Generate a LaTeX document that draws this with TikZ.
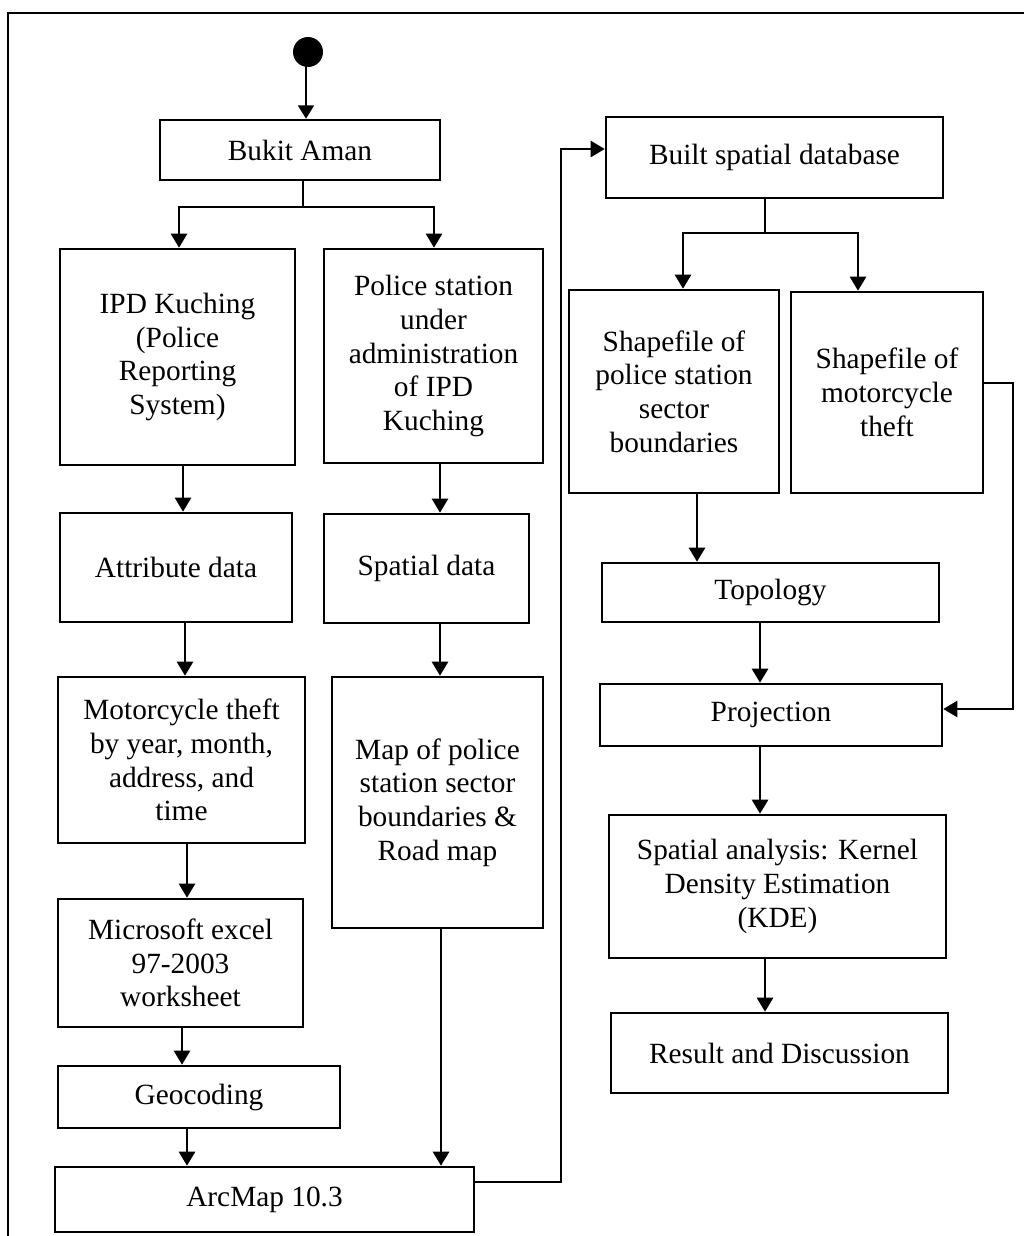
\documentclass[tikz,border=0pt]{standalone}
\usepackage{fontspec}
\setmainfont{Liberation Serif}
\usetikzlibrary{arrows.meta}
\tikzset{
  box/.style={draw, line width=1.9pt, inner sep=0pt, align=center,
    font=\fontsize{22}{25.3}\selectfont},
  conn/.style={line width=1.9pt},
  arr/.style={line width=1.9pt, -{Triangle[length=10.5pt,width=12pt]}},
  thinarr/.style={line width=1.1pt, -{Triangle[length=10pt,width=12pt]}},
  frame/.style={line width=2.2pt}
}
\newcommand\mybox[6]{%
  \node[box, minimum width={(#4-#2)*0.75pt}, minimum height={(#5-#3)*0.75pt}]
    (#1) at ({(#2+#4)/2},{(#3+#5)/2}) {#6};}
\begin{document}
\begin{tikzpicture}[x=0.75pt, y=-0.75pt]
\useasboundingbox (0,0) rectangle (1024,1236);
% outer frame (cropped)
\draw[frame] (8,1236) -- (8,13) -- (1024,13);

% start node
\node[circle, fill=black, minimum size=22.5pt, inner sep=0pt] (start) at (308,52) {};

% left part
\mybox{bukit}{160}{120}{440}{180}{Bukit Aman}
\mybox{ipd}{60}{249}{295}{465}{IPD Kuching\\(Police\\Reporting\\System)}
\mybox{police}{324}{249}{543}{463}{Police station\\under\\administration\\of IPD\\Kuching}
\mybox{attr}{60}{513}{292}{622}{Attribute data}
\mybox{spat}{324}{514}{529}{623}{Spatial data}
\mybox{moto}{58}{677}{305}{843}{Motorcycle theft\\by year, month,\\address, and\\time}
\mybox{map}{332}{677}{543}{928}{Map of police\\station sector\\boundaries \&\\Road map}
\mybox{excel}{58}{899}{303}{1027}{Microsoft excel\\97-2003\\worksheet}
\mybox{geo}{58}{1066}{340}{1128}{Geocoding}
\mybox{arc}{55}{1167}{474}{1232}{ArcMap 10.3}

% right part
\mybox{built}{606}{117}{943}{198}{Built spatial database}
\mybox{shpa}{569}{290}{779}{493}{Shapefile of\\police station\\sector\\boundaries}
\mybox{shpb}{791}{292}{983}{493}{Shapefile of\\motorcycle\\theft}
\mybox{topo}{602}{563}{939}{622}{Topology}
\mybox{proj}{600}{684}{942}{746}{Projection}
\mybox{kde}{609}{815}{946}{958}{Spatial analysis: Kernel\\Density Estimation\\(KDE)}
\mybox{res}{611}{1013}{948}{1093}{Result and Discussion}

% connectors, left
\draw[thinarr] (306,0 |- start.south) -- (306,0 |- bukit.north);
\coordinate (bsplit) at (303,207);
\draw[conn] (303,0 |- bukit.south) -- (bsplit);
\draw[arr] (bsplit) -- (179,207) -- (179,0 |- ipd.north);
\draw[arr] (bsplit) -- (434,207) -- (434,0 |- police.north);
\draw[arr] (183,0 |- ipd.south) -- (183,0 |- attr.north);
\draw[arr] (440,0 |- police.south) -- (440,0 |- spat.north);
\draw[arr] (185,0 |- attr.south) -- (185,0 |- moto.north);
\draw[arr] (440,0 |- spat.south) -- (440,0 |- map.north);
\draw[arr] (187,0 |- moto.south) -- (187,0 |- excel.north);
\draw[arr] (182,0 |- excel.south) -- (182,0 |- geo.north);
\draw[arr] (187,0 |- geo.south) -- (187,0 |- arc.north);
\draw[arr] (441,0 |- map.south) -- (441,0 |- arc.north);
\draw[arr] (arc.east |- 0,1182) -- (561,1182) -- (561,149) -- (built.west |- 0,149);

% connectors, right
\coordinate (rsplit) at (765,233);
\draw[conn] (765,0 |- built.south) -- (rsplit);
\draw[arr] (rsplit) -- (683,233) -- (683,0 |- shpa.north);
\draw[arr] (rsplit) -- (858,233) -- (858,0 |- shpb.north);
\draw[arr] (697,0 |- shpa.south) -- (697,0 |- topo.north);
\draw[arr] (760,0 |- topo.south) -- (760,0 |- proj.north);
\draw[arr] (shpb.east |- 0,383) -- (1013,383) -- (1013,709) -- (proj.east |- 0,709);
\draw[arr] (760,0 |- proj.south) -- (760,0 |- kde.north);
\draw[arr] (765,0 |- kde.south) -- (765,0 |- res.north);
\end{tikzpicture}
\end{document}
